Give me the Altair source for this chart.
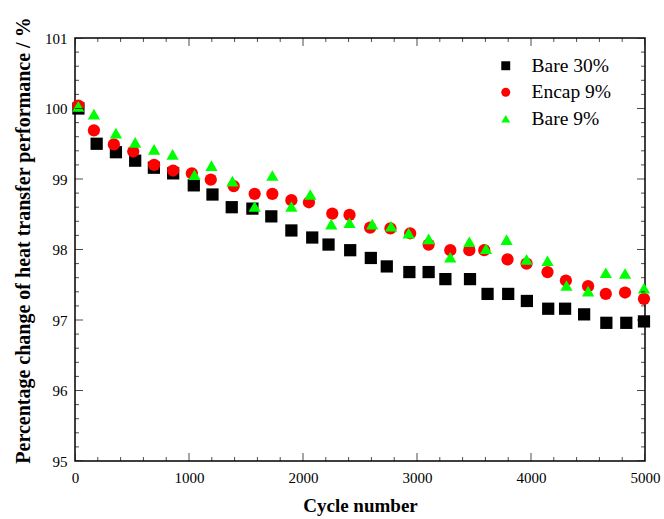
import altair as alt
import pandas as pd

# ---- data ----
bare30_x = [30, 190, 359, 528, 692, 861, 1042, 1206, 1375, 1556, 1722, 1898, 2081, 2224, 2414,
            2595, 2735, 2933, 3102, 3249, 3465, 3619, 3800, 3964, 4151, 4299, 4466, 4661, 4836, 4991]
bare30_y = [100.0, 99.50, 99.38, 99.26, 99.16, 99.08, 98.91, 98.78, 98.60, 98.58, 98.47, 98.27, 98.17, 98.07, 97.99,
            97.88, 97.76, 97.68, 97.68, 97.58, 97.58, 97.37, 97.37, 97.27, 97.16, 97.16, 97.08, 96.96, 96.96, 96.98]

encap9_x = [29, 166, 341, 511, 694, 861, 1025, 1191, 1392, 1576, 1731, 1898, 2052, 2257, 2408,
            2589, 2767, 2940, 3102, 3292, 3459, 3590, 3794, 3961, 4145, 4306, 4501, 4656, 4825, 4991]
encap9_y = [100.04, 99.69, 99.49, 99.39, 99.20, 99.12, 99.08, 98.99, 98.90, 98.79, 98.79, 98.70, 98.67, 98.51, 98.49,
            98.31, 98.30, 98.23, 98.07, 97.99, 97.99, 97.99, 97.86, 97.80, 97.68, 97.56, 97.48, 97.37, 97.39, 97.30]

bare9_x = [29, 166, 359, 528, 694, 856, 1048, 1197, 1381, 1576, 1731, 1898, 2064, 2248, 2408,
           2607, 2773, 2927, 3102, 3292, 3459, 3605, 3786, 3961, 4145, 4311, 4501, 4656, 4825, 4991]
bare9_y = [100.03, 99.92, 99.65, 99.52, 99.42, 99.35, 99.06, 99.19, 98.97, 98.61, 99.05, 98.61, 98.78, 98.36, 98.38,
           98.36, 98.33, 98.23, 98.15, 97.89, 98.11, 98.01, 98.14, 97.86, 97.84, 97.49, 97.41, 97.67, 97.66, 97.45]

series_names = ["Bare 30%", "Encap 9%", "Bare 9%"]
series_colors = ["#000000", "#ff0000", "#00ff00"]
series_shapes = ["square", "circle", "triangle-up"]

x_major = [0, 1000, 2000, 3000, 4000, 5000]
x_minor = [200, 400, 600, 800, 1200, 1400, 1600, 1800, 2200, 2400, 2600, 2800,
           3200, 3400, 3600, 3800, 4200, 4400, 4600, 4800]
y_major = [95, 96, 97, 98, 99, 100, 101]
y_minor = [95.2, 95.4, 95.6, 95.8, 96.2, 96.4, 96.6, 96.8, 97.2, 97.4, 97.6, 97.8,
           98.2, 98.4, 98.6, 98.8, 99.2, 99.4, 99.6, 99.8, 100.2, 100.4, 100.6, 100.8]

# ---- build table ----
rows = []
for name, xs, ys in zip(series_names, [bare30_x, encap9_x, bare9_x], [bare30_y, encap9_y, bare9_y]):
    for xv, yv in zip(xs, ys):
        rows.append({"series": name, "cycle": xv, "value": yv})
df = pd.DataFrame(rows)
df["order"] = df["series"].map({n: i for i, n in enumerate(series_names)})

W, H = 570, 423
FONT = "Liberation Serif"

xscale = alt.Scale(domain=[0, 5000], nice=False, zero=False)
yscale = alt.Scale(domain=[95, 101], nice=False, zero=False)

points = alt.Chart(df).mark_point(filled=True, opacity=1, size=150).encode(
    x=alt.X("cycle:Q", scale=xscale,
            axis=alt.Axis(title="Cycle number", values=x_major, format="d", grid=False, domain=False,
                          ticks=False, labelFont=FONT, labelFontSize=15, labelColor="black",
                          labelPadding=9, titleFont=FONT, titleFontSize=19, titleFontWeight="bold",
                          titleColor="black", titlePadding=11, labelFlush=False)),
    y=alt.Y("value:Q", scale=yscale,
            axis=alt.Axis(title="Percentage change of heat transfer performance / %", values=y_major,
                          format="d", grid=False, domain=False, ticks=False, labelFont=FONT,
                          labelFontSize=15, labelColor="black", labelPadding=8, titleFont=FONT,
                          titleFontSize=20, titleFontWeight="bold", titleColor="black",
                          titlePadding=11, titleY=202, labelFlush=False)),
    color=alt.Color("series:N", title=None,
                    scale=alt.Scale(domain=series_names, range=series_colors),
                    legend=alt.Legend(orient="none", legendX=421, legendY=18, labelFont=FONT,
                                      labelFontSize=19.5, labelColor="black", symbolSize=80,
                                      labelOffset=16, rowPadding=5.5, padding=0)),
    shape=alt.Shape("series:N", title=None,
                    scale=alt.Scale(domain=series_names, range=series_shapes)),
    order=alt.Order("order:Q"),
)


def ticks_x(vals, length, top):
    d = pd.DataFrame({"cycle": vals})
    return alt.Chart(d).mark_tick(clip=True, color="black", thickness=1, size=length * 2).encode(
        x=alt.X("cycle:Q", scale=xscale),
        y=alt.value(0 if top else H),
    )


def ticks_y(vals, length, right):
    d = pd.DataFrame({"value": vals})
    return alt.Chart(d).mark_tick(clip=True, color="black", thickness=1, size=length * 2).encode(
        y=alt.Y("value:Q", scale=yscale),
        x=alt.value(W if right else 0),
    )


layers = [points]
for top in (False, True):
    layers.append(ticks_x(x_major, 8, top))
    layers.append(ticks_x(x_minor, 4, top))
for right in (False, True):
    layers.append(ticks_y(y_major, 8, right))
    layers.append(ticks_y(y_minor, 4, right))

chart = alt.layer(*layers).properties(
    width=W, height=H,
    background="white",
    autosize=alt.AutoSizeParams(type="none"),
    padding={"left": 75, "top": 38, "right": 19, "bottom": 58},
).configure_view(stroke="black", strokeWidth=1.5)

chart.save("out.html", embed_options={"renderer": "svg", "actions": False})
